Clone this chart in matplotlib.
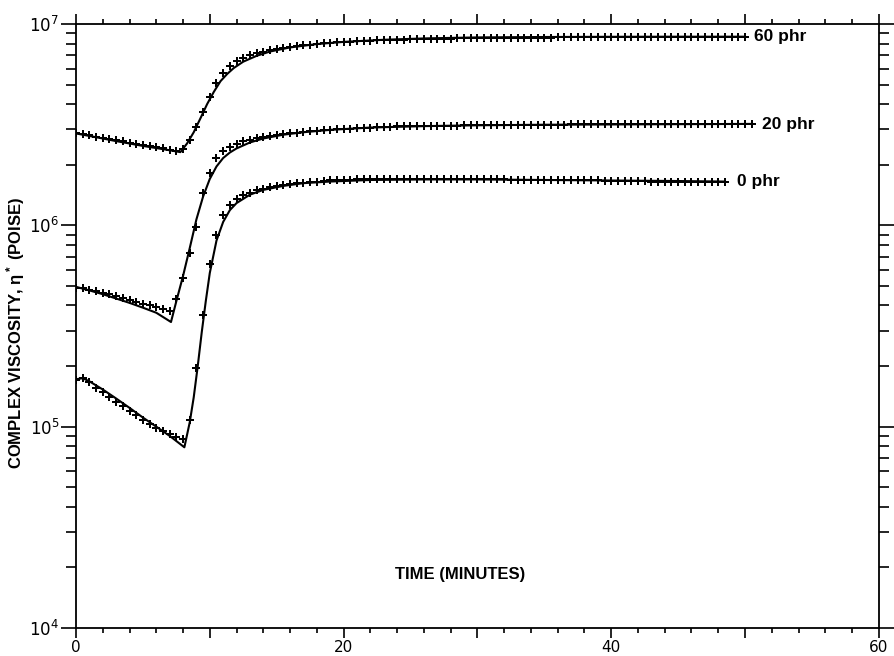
"""Complex viscosity vs. cure time for three filler loadings,
measured points with the model curve drawn through them.
"""
import numpy as np
import matplotlib
matplotlib.use("Agg")
import matplotlib.pyplot as plt
from matplotlib.ticker import FixedLocator, LogLocator, NullFormatter

plt.rcParams['font.family'] = ['Liberation Sans', 'DejaVu Sans']
plt.rcParams['mathtext.default'] = 'regular'

# measured points, one every half minute from t = 0 (values in 1e5 poise)
meas_60 = [28.8, 28.4, 28.0, 27.6, 27.2, 26.8, 26.4, 26.1, 25.7, 25.4,
           25.0, 24.7, 24.4, 24.1, 23.8, 23.5, 24.0, 26.5, 30.8, 36.5,
           43.4, 51.0, 57.0, 62.0, 65.5, 68.0, 70.0, 71.5, 73.0, 74.2,
           75.2, 76.2, 77.0, 77.7, 78.4, 79.0, 79.6, 80.1, 80.6, 81.0,
           81.4, 81.7, 82.0, 82.3, 82.6, 82.9, 83.1, 83.3, 83.5, 83.7,
           83.9, 84.1, 84.2, 84.4, 84.5, 84.6, 84.7, 84.8, 84.9, 85.0,
           85.1, 85.2, 85.2, 85.3, 85.4, 85.4, 85.5, 85.5, 85.6, 85.6,
           85.7, 85.7, 85.8, 85.8, 85.8, 85.9, 85.9, 85.9, 86.0, 86.0,
           86.0, 86.1, 86.1, 86.1, 86.1, 86.2, 86.2, 86.2, 86.2, 86.3,
           86.3, 86.3, 86.3, 86.3, 86.4, 86.4, 86.4, 86.4, 86.5, 86.5,
           86.5]
meas_20 = [4.90, 4.86, 4.80, 4.72, 4.63, 4.54, 4.45, 4.36, 4.27, 4.18,
           4.09, 4.00, 3.92, 3.84, 3.74, 4.30, 5.50, 7.30, 9.80, 14.5,
           18.2, 21.6, 23.3, 24.5, 25.4, 26.1, 26.6, 27.0, 27.4, 27.8,
           28.1, 28.4, 28.7, 28.9, 29.1, 29.3, 29.5, 29.7, 29.9, 30.0,
           30.1, 30.2, 30.4, 30.5, 30.6, 30.7, 30.8, 30.9, 31.0, 31.0,
           31.1, 31.1, 31.2, 31.2, 31.2, 31.3, 31.3, 31.3, 31.4, 31.4,
           31.4, 31.4, 31.5, 31.5, 31.5, 31.5, 31.5, 31.6, 31.6, 31.6,
           31.6, 31.6, 31.6, 31.6, 31.7, 31.7, 31.7, 31.7, 31.7, 31.7,
           31.7, 31.7, 31.7, 31.8, 31.8, 31.8, 31.8, 31.8, 31.8, 31.8,
           31.8, 31.8, 31.8, 31.8, 31.8, 31.9, 31.9, 31.9, 31.9, 31.9,
           31.9, 31.9]
meas_0 = [1.70, 1.74, 1.66, 1.56, 1.48, 1.40, 1.33, 1.26, 1.20, 1.14,
          1.08, 1.03, 0.99, 0.95, 0.92, 0.89, 0.87, 1.08, 1.95, 3.60,
          6.40, 9.00, 11.2, 12.6, 13.5, 14.1, 14.5, 14.9, 15.2, 15.5,
          15.7, 15.9, 16.1, 16.2, 16.3, 16.4, 16.5, 16.6, 16.7, 16.7,
          16.8, 16.8, 16.9, 16.9, 16.9, 17.0, 17.0, 17.0, 17.0, 17.0,
          17.0, 17.0, 17.0, 17.0, 17.0, 17.0, 17.0, 17.0, 16.9, 16.9,
          16.9, 16.9, 16.9, 16.9, 16.9, 16.8, 16.8, 16.8, 16.8, 16.8,
          16.8, 16.8, 16.7, 16.7, 16.7, 16.7, 16.7, 16.7, 16.7, 16.6,
          16.6, 16.6, 16.6, 16.6, 16.6, 16.6, 16.5, 16.5, 16.5, 16.5,
          16.5, 16.5, 16.5, 16.5, 16.4, 16.4, 16.4, 16.4]

# model curves (time in minutes, values in 1e5 poise)
fit_t_60 = [0, 1, 2, 3, 4, 5, 6, 7, 7.8, 8.3, 8.8, 9.3, 9.8, 10.3, 10.8,
            11.3, 11.8, 12.5, 13.5, 14.5, 16, 18, 20, 23, 26, 30, 35, 40,
            45, 50]
fit_60 = [28.6, 27.8, 27.0, 26.2, 25.5, 24.8, 24.2, 23.6, 23.1, 25.5, 29.0,
          34.0, 40.0, 46.0, 52.0, 56.5, 60.5, 65.0, 69.5, 73.0, 76.5, 79.5,
          81.5, 83.5, 84.8, 85.8, 86.2, 86.4, 86.5, 86.5]
fit_t_20 = [0, 1, 2, 3, 4, 5, 6, 7.1, 7.5, 8.0, 8.5, 9.0, 9.5, 10.0, 10.5,
            11.0, 11.5, 12.0, 13.0, 14.0, 15.5, 17, 19, 22, 26, 30, 35, 40,
            45, 50.5]
fit_20 = [4.95, 4.75, 4.55, 4.33, 4.12, 3.90, 3.68, 3.31, 4.20, 5.60, 7.70,
          10.7, 13.9, 17.0, 19.6, 21.6, 23.0, 24.1, 25.8, 27.0, 28.2, 29.0,
          29.8, 30.6, 31.1, 31.4, 31.6, 31.7, 31.8, 31.9]
fit_t_0 = [0, 0.5, 1, 2, 3, 4, 5, 6, 7, 8.1, 8.5, 8.8, 9.1, 9.4, 9.7, 10.0,
           10.5, 11.0, 11.5, 12.0, 13.0, 14.0, 15.5, 17, 19, 22, 26, 30, 35,
           40, 45, 48.5]
fit_0 = [1.72, 1.74, 1.68, 1.53, 1.38, 1.24, 1.11, 1.00, 0.90, 0.79, 1.05,
         1.40, 2.00, 2.95, 4.20, 5.80, 8.40, 10.4, 11.9, 12.9, 14.2, 15.0,
         15.7, 16.2, 16.5, 16.8, 16.9, 16.9, 16.8, 16.7, 16.6, 16.5]

labels = ['60 phr', '20 phr', '0 phr']
label_t = [50.7, 51.3, 49.4]
label_v = [86.5, 31.8, 16.5]

fig = plt.figure(figsize=(8.94, 6.56), dpi=100)
ax = fig.add_axes([0.085, 0.0427, 0.898, 0.9207])

scale = 1e5
for meas, ft, fv in [(meas_60, fit_t_60, fit_60),
                     (meas_20, fit_t_20, fit_20),
                     (meas_0, fit_t_0, fit_0)]:
    t = 0.5 * np.arange(len(meas))
    ax.plot(ft, np.array(fv) * scale, color='black', lw=1.5, zorder=2)
    ax.plot(t, np.array(meas) * scale, ls='none', marker='P', ms=6.3,
            color='black', mew=0, zorder=3)

for name, lt, lv in zip(labels, label_t, label_v):
    ax.text(lt, lv * scale, name, fontsize=12.5, fontweight='bold',
            ha='left', va='center')

ax.set_yscale('log')
ax.set_xlim(0, 60)
ax.set_ylim(1e4, 1e7)

ax.xaxis.set_major_locator(FixedLocator(np.arange(0, 61, 10)))
ax.xaxis.set_minor_locator(FixedLocator(np.arange(0, 61, 2)))
ax.set_xticklabels(['0', '', '20', '', '40', '', '60'])
ax.yaxis.set_major_locator(FixedLocator([1e4, 1e5, 1e6, 1e7]))
ax.yaxis.set_minor_locator(LogLocator(base=10, subs=np.arange(2, 10)))
ax.yaxis.set_minor_formatter(NullFormatter())
ax.set_yticklabels([r'$10^4$', r'$10^5$', r'$10^6$', r'$10^7$'])

ax.tick_params(which='both', direction='out', top=True, right=True,
               width=1.2, labelsize=12)
ax.tick_params(axis='x', which='major', length=7, pad=1.5, labelsize=11)
ax.tick_params(axis='x', which='minor', length=3.5)
ax.tick_params(axis='y', which='major', length=11, pad=1)
ax.tick_params(axis='y', which='minor', length=7)
for lab in ax.get_xticklabels() + ax.get_yticklabels():
    lab.set_family('DejaVu Sans')
for s in ax.spines.values():
    s.set_linewidth(1.3)

ax.text(0.478, 0.088, 'TIME (MINUTES)', transform=ax.transAxes,
        fontsize=12, fontweight='bold', ha='center', va='center')
fig.text(0.017, 0.492, 'COMPLEX VISCOSITY, η$^*$ (POISE)', rotation=90,
         fontsize=12, fontweight='bold', ha='center', va='center')

fig.savefig('out.png', dpi=100)
